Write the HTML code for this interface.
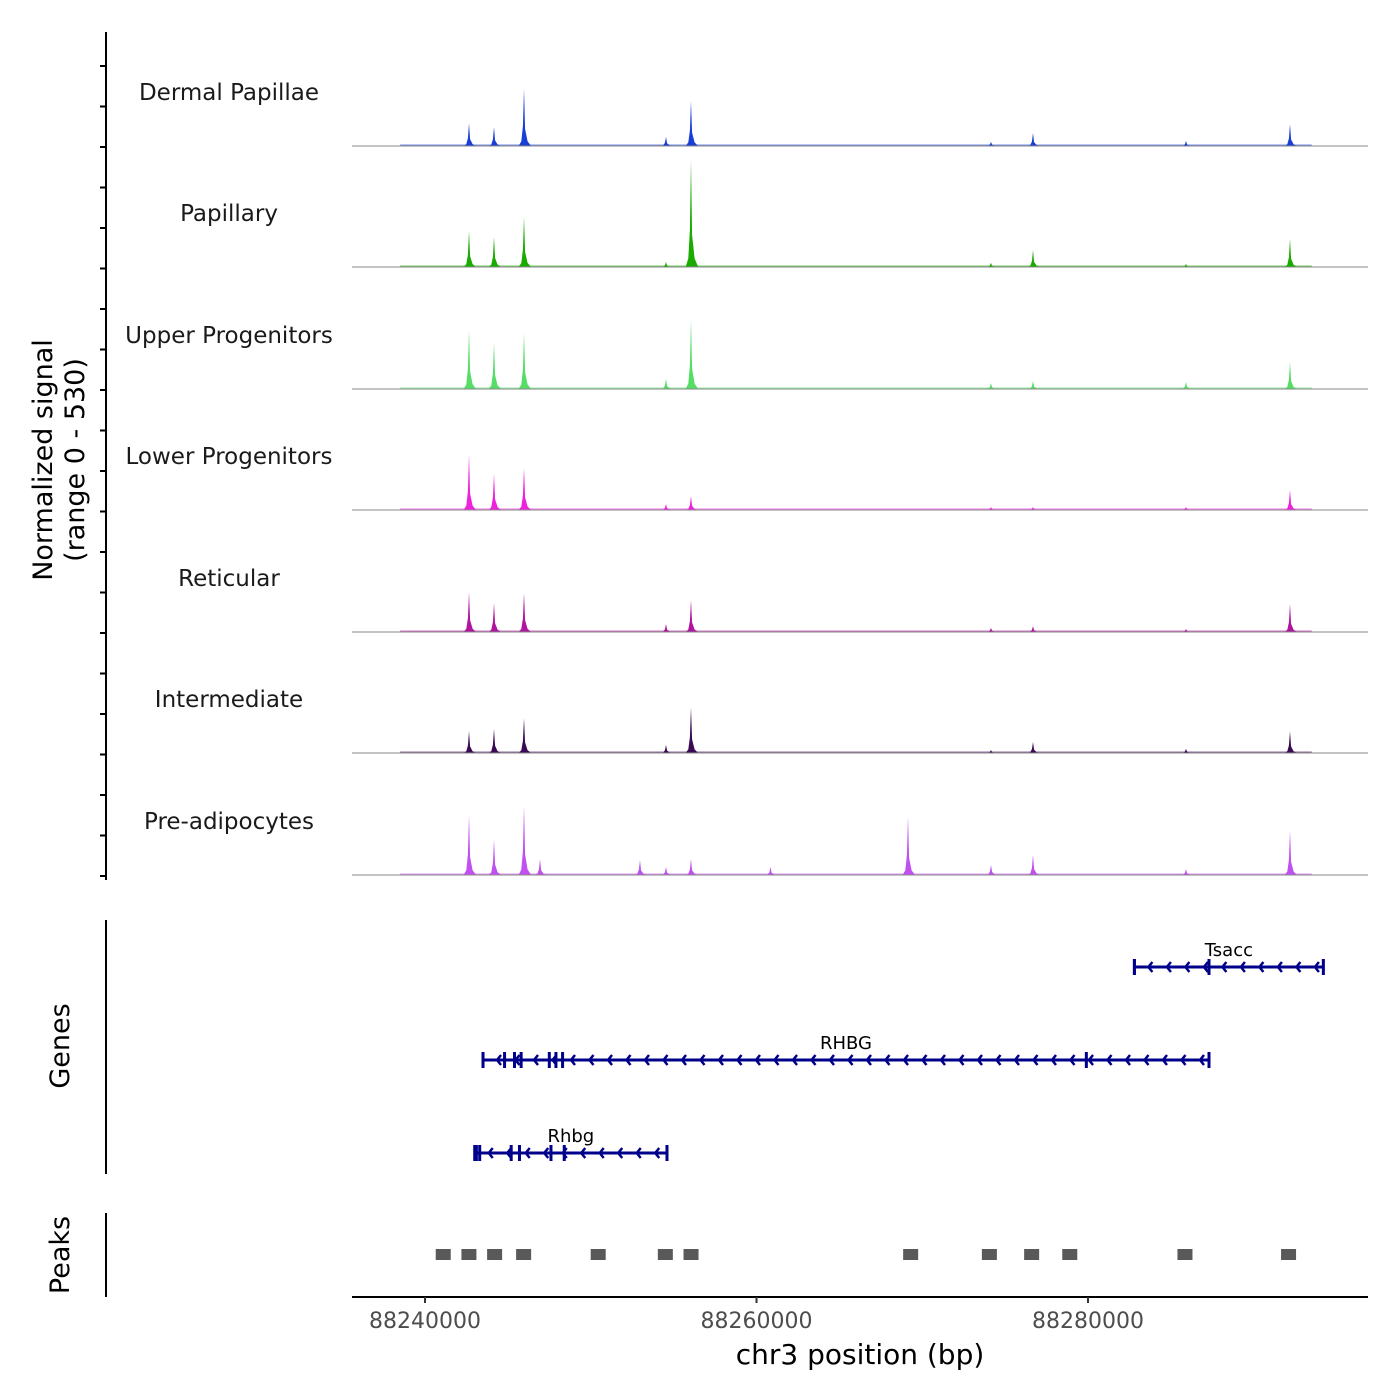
<!DOCTYPE html>
<html><head><meta charset="utf-8"><style>
body{margin:0;background:#fff}
svg{display:block;font-family:"DejaVu Sans","Liberation Sans",sans-serif}
</style></head><body>
<svg id="c" width="1400" height="1400"></svg>
<script>
const trackNames=["Dermal Papillae","Papillary","Upper Progenitors","Lower Progenitors","Reticular","Intermediate","Pre-adipocytes"];
const trackColors=["#1a3fd6","#1aab00","#55dd66","#ee22dd","#b0159f","#3a0a55","#c050f0"];
const peakPositions=[88242655,88244163,88245973,88254540,88256048,88269140,88274148,88276682,88285913,88292187];
const dermalValues=[100,83,250,40,197,0,18,57,22,96];
const papillaryValues=[158,131,219,22,469,0,18,74,13,123];
const upperValues=[258,201,245,44,302,0,26,35,31,118];
const lowerValues=[241,158,184,26,61,0,13,13,13,88];
const reticularValues=[175,127,171,35,140,0,18,26,13,123];
const intermediateValues=[96,105,153,35,201,0,13,48,18,96];
const preadipoValues=[263,153,302,35,70,254,44,88,26,193];
const trackValues=[dermalValues,papillaryValues,upperValues,lowerValues,reticularValues,intermediateValues,preadipoValues];
const extraPrePos=[88246939,88252970,88260844];
const extraPreVals=[70,66,35];
const genes=[{name:"Tsacc",start:88282800,end:88294200,row:0,exons:[88282800,88287300]},
 {name:"RHBG",start:88243500,end:88287300,row:1,exons:[88243500,88244800,88245400,88245800,88247500,88247900,88248300,88279900]},
 {name:"Rhbg",start:88243000,end:88254600,row:2,exons:[88243100,88243300,88245200,88245700,88247600,88248400,88254600]}];
const peakRegions=[88241100,88242650,88244200,88245950,88250450,88254500,88256050,88269300,88274050,88276600,88278900,88285850,88292100];
const xTicks=[88240000,88260000,88280000];

const NS="http://www.w3.org/2000/svg";
const svg=document.getElementById("c");
function el(t,a,p){const e=document.createElementNS(NS,t);for(const k in a)e.setAttribute(k,a[k]);(p||svg).appendChild(e);return e;}
const X=v=>425+(v-88240000)/20000*331.5;
const baselines=[146,267,389,510,632,753,875];
const H=v=>v/530*121;

let ax=el("g",{});
el("line",{x1:106,x2:106,y1:32,y2:880,stroke:"#000","stroke-width":2},ax);
for(let y=876;y>50;y-=40.5){el("line",{x1:100,x2:106,y1:y,y2:y,stroke:"#000","stroke-width":2},ax);}
let yt=el("text",{x:0,y:0,"font-size":27,"text-anchor":"middle",transform:"translate(52,460) rotate(-90)"});

yt.innerHTML='<tspan x="0" dy="0">Normalized signal</tspan><tspan x="0" dy="32">(range 0 - 530)</tspan>';

function spikePath(pos,val,b,w){
 const x=X(pos),h=H(val);
 return `M${x-w*3},${b} L${x-w*1.5},${b-h*0.08} L${x-w*0.6},${b-h*0.35} L${x},${b-h} L${x+w*0.6},${b-h*0.3} L${x+w*2},${b-h*0.08} L${x+w*4},${b} Z`;
}
trackNames.forEach((n,i)=>{
 const b=baselines[i];
 const g=el("g",{});
 
 
 const t=el("text",{x:229,y:b-46,"font-size":23,"text-anchor":"middle",fill:"#1a1a1a"},g);t.textContent=n;
 
 el("path",{d:`M${X(88238500)},${b} L${X(88238500)},${b-1.5} L${X(88293500)},${b-1.5} L${X(88293500)},${b} Z`,fill:trackColors[i],opacity:0.6},g);
 trackValues[i].forEach((v,j)=>{
  if(v<=0)return;
  const p=el("path",{d:spikePath(peakPositions[j],v,b,1.8),fill:trackColors[i]},g);
  
 });
 if(i===6)extraPrePos.forEach((pp,j)=>{const p=el("path",{d:spikePath(pp,extraPreVals[j],b,1.8),fill:trackColors[i]},g);
  });
 el("line",{x1:352,x2:1368,y1:b,y2:b,stroke:"#888","stroke-width":1},g);
});

let ga=el("g",{});
el("line",{x1:106,x2:106,y1:920,y2:1174,stroke:"#000","stroke-width":2},ga);
let gt=el("text",{x:0,y:0,"font-size":27,"text-anchor":"middle",transform:"translate(69,1046) rotate(-90)"},ga);gt.textContent="Genes";
const rowY=[967,1060,1153];
genes.forEach(gn=>{
 const g=el("g",{});
 const y=rowY[gn.row],x1=X(gn.start),x2=X(gn.end);
 el("line",{x1,x2,y1:y,y2:y,stroke:"#00008b","stroke-width":3},g);
 for(let x=x1+14;x<x2-6;x+=18.5){el("polyline",{points:`${x+4},${y-5} ${x},${y} ${x+4},${y+5}`,fill:"none",stroke:"#00008b","stroke-width":2.5},g);}
 gn.exons.forEach(e=>el("rect",{x:X(e)-1.5,y:y-8,width:3,height:16,fill:"#00008b"},g));
 el("rect",{x:x1-1.5,y:y-8,width:3,height:16,fill:"#00008b"},g);
 el("rect",{x:x2-1.5,y:y-8,width:3,height:16,fill:"#00008b"},g);
 const t=el("text",{x:(x1+x2)/2,y:y-11,"font-size":18,"text-anchor":"middle"},g);t.textContent=gn.name;
});
let pa=el("g",{});
el("line",{x1:106,x2:106,y1:1213,y2:1297,stroke:"#000","stroke-width":2},pa);
let pt=el("text",{x:0,y:0,"font-size":27,"text-anchor":"middle",transform:"translate(69,1255) rotate(-90)"},pa);pt.textContent="Peaks";
peakRegions.forEach(p=>{const r=el("rect",{x:X(p)-7.5,y:1249,width:15,height:11,fill:"#595959"},pa);
 });
let xa=el("g",{});
el("line",{x1:352,x2:1368,y1:1297,y2:1297,stroke:"#000","stroke-width":2},xa);
xTicks.forEach(v=>{el("line",{x1:X(v),x2:X(v),y1:1297,y2:1303,stroke:"#333","stroke-width":2},xa);
 const t=el("text",{x:X(v),y:1328,"font-size":22,"text-anchor":"middle",fill:"#4d4d4d"},xa);t.textContent=v;});
let xt=el("text",{x:860,y:1364,"font-size":28,"text-anchor":"middle"},xa);xt.textContent="chr3 position (bp)";

</script>
</body></html>
